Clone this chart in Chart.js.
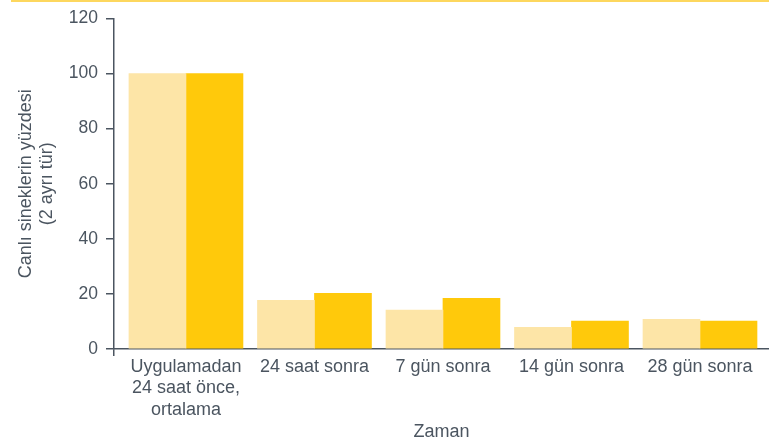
<!DOCTYPE html>
<html>
<head>
<meta charset="utf-8">
<script src="https://cdn.jsdelivr.net/npm/chart.js@4"></script>
<style>
  body { margin: 0; background: #fff; }
  #wrap { position: relative; width: 769px; height: 448px; }
  #topline { position: absolute; top: 0; left: 11px; right: 0; height: 2px; background: #fdd75e; }
  canvas { position: absolute; top: 0; left: 0; }
</style>
</head>
<body>
<div id="wrap">
  <canvas id="myChart" width="769" height="448"></canvas>
  <div id="topline"></div>
</div>
<script>
var categories = [
  ['Uygulamadan', '24 saat önce,', 'ortalama'],
  '24 saat sonra',
  '7 gün sonra',
  '14 gün sonra',
  '28 gün sonra'
];
var speciesA = [100, 17.7, 14.1, 7.9, 10.8];
var speciesB = [100, 20.2, 18.4, 10.1, 10.1];
var yTicks = [0, 20, 40, 60, 80, 100, 120];

var axisColor = '#4b5560';
var tickFont = { family: "'Liberation Sans', Arial, sans-serif", size: 17.5 };
var textFont = { family: "'Liberation Sans', Arial, sans-serif", size: 18 };

function points(values) {
  return values.map(function (v, i) { return { x: i, y: v }; });
}

var xMin = -0.56, xMax = 4.537;

var ctx = document.getElementById('myChart').getContext('2d');
var chart = new Chart(ctx, {
  type: 'bar',
  data: {
    datasets: [
      {
        label: 'Tür 1',
        backgroundColor: '#fde5a7',
        data: points(speciesA)
      },
      {
        label: 'Tür 2',
        backgroundColor: '#ffc90b',
        data: points(speciesB)
      }
    ]
  },
  options: {
    responsive: false,
    animation: false,
    layout: { padding: { top: 17, left: 15, right: 0, bottom: 5 } },
    datasets: { bar: { barThickness: 57 } },
    plugins: { legend: { display: false }, tooltip: { enabled: false } },
    scales: {
      x: {
        type: 'linear',
        offset: false,
        min: xMin,
        max: xMax,
        afterBuildTicks: function (axis) {
          axis.ticks = [xMin, 0, 1, 2, 3, 4].map(function (v) { return { value: v }; });
        },
        afterFit: function (axis) { axis.height = 94; },
        ticks: {
          autoSkip: false,
          maxRotation: 0,
          padding: 0,
          color: axisColor,
          font: textFont,
          callback: function (value) {
            return Number.isInteger(value) ? categories[value] : '';
          }
        },
        grid: {
          offset: false,
          drawOnChartArea: false,
          tickLength: 7,
          lineWidth: 1.5,
          color: function (c) { return c.index === 0 ? axisColor : 'rgba(0,0,0,0)'; }
        },
        border: { color: axisColor, width: 1.5 },
        title: {
          display: true,
          text: 'Zaman',
          color: axisColor,
          font: textFont,
          padding: 0
        }
      },
      y: {
        min: 0,
        max: 120,
        afterBuildTicks: function (axis) {
          axis.ticks = yTicks.map(function (v) { return { value: v }; });
        },
        afterFit: function (axis) { axis.width = 99; },
        ticks: { color: axisColor, font: tickFont, padding: 8 },
        grid: { drawOnChartArea: false, tickLength: 8, lineWidth: 1.5, color: axisColor },
        border: { color: axisColor, width: 1.5 },
        title: {
          display: true,
          text: ['Canlı sineklerin yüzdesi', '(2 ayrı tür)'],
          color: axisColor,
          font: textFont,
          padding: 0
        }
      }
    }
  }
});
</script>
</body>
</html>
